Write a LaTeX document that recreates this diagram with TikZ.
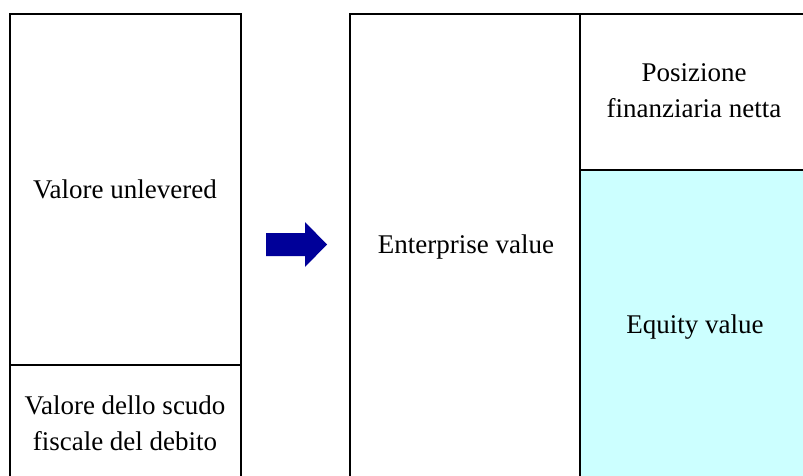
\documentclass[tikz,border=0pt]{standalone}
\usepackage{fontspec}
\setmainfont{Liberation Serif}
\begin{document}
\begin{tikzpicture}[x=1pt,y=-1pt,
  box/.style={draw=black,line width=1.8pt},
  lbl/.style={font=\fontsize{27}{36}\selectfont,align=center,inner sep=0pt},
  arr/.style={fill=arrowblue,draw=none}]
\definecolor{arrowblue}{HTML}{000099}
\definecolor{eqcyan}{HTML}{CCFFFF}
\useasboundingbox (0,0) rectangle (803,476);
% fills
\fill[eqcyan] (580,170) rectangle (812,485);
% left column
\draw[box] (10,485) -- (10,14) -- (241,14) -- (241,485);
\draw[box] (10,365) -- (241,365);
% right column
\draw[box] (350,485) -- (350,14) -- (812,14);
\draw[box] (580,14) -- (580,485);
\draw[box] (580,170) -- (812,170);
% arrow
\fill[arr] (266,233) -- (305,233) -- (305,222) -- (327,244.5) -- (305,267) -- (305,256) -- (266,256) -- cycle;
% labels
\node[lbl] (unlev) at (125,189) {Valore unlevered};
\node[lbl] (scudo) at (125,423) {Valore dello scudo\\fiscale del debito};
\node[lbl] (ev) at (466,247) {Enterprise value};
\node[lbl] (pfn) at (694,91) {Posizione\\finanziaria netta};
\node[lbl] (eq) at (695,327) {Equity value};
\end{tikzpicture}
\end{document}
